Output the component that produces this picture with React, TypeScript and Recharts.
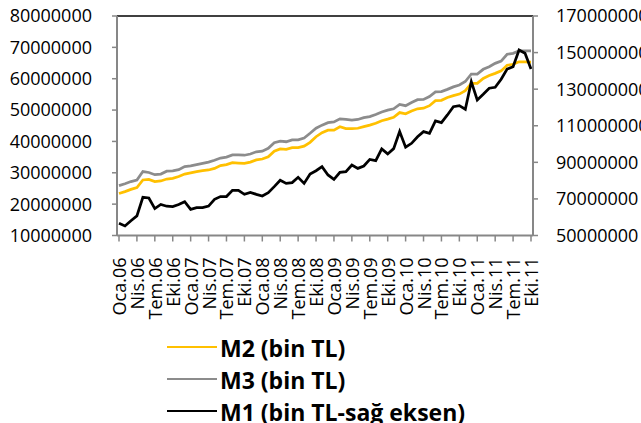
import { LineChart, Line, XAxis, YAxis, ReferenceLine } from 'recharts';

// Turkish month abbreviations, Oca.06 .. Eki.11 (70 months)
const MONTHS = ['Oca', 'Şub', 'Mar', 'Nis', 'May', 'Haz', 'Tem', 'Ağu', 'Eyl', 'Eki', 'Kas', 'Ara'];
const YEARS = ['06', '07', '08', '09', '10', '11'];
const categories = YEARS.flatMap((yr) => MONTHS.map((m) => `${m}.${yr}`)).slice(0, 70);

// values in millions (bin TL)
const m2 = [
  23.4, 24.0, 24.7, 25.3, 27.7, 27.9, 27.2, 27.4, 28.0, 28.2, 28.8, 29.6,
  30.0, 30.4, 30.7, 30.9, 31.4, 32.3, 32.6, 33.2, 33.1, 33.0, 33.4, 34.1,
  34.4, 35.1, 36.9, 37.6, 37.5, 38.0, 38.0, 38.5, 39.7, 41.5, 42.8, 43.6,
  43.6, 44.7, 44.1, 44.1, 44.2, 44.7, 45.2, 45.8, 46.6, 47.1, 47.7, 49.2,
  48.8, 49.7, 50.4, 50.6, 51.4, 53.0, 53.1, 54.0, 54.6, 55.1, 56.2, 58.5,
  58.5, 60.1, 61.0, 61.7, 62.5, 64.3, 64.6, 65.4, 65.4, 65.3,
];
const m3 = [
  25.9, 26.5, 27.2, 27.7, 30.4, 30.1, 29.4, 29.6, 30.5, 30.6, 31.0, 32.0,
  32.2, 32.6, 33.0, 33.4, 34.0, 34.7, 35.0, 35.7, 35.7, 35.6, 36.0, 36.7,
  36.9, 37.8, 39.6, 40.1, 39.9, 40.5, 40.5, 41.1, 42.6, 44.2, 45.2, 46.0,
  46.2, 47.2, 47.0, 46.8, 47.0, 47.6, 47.9, 48.6, 49.4, 50.0, 50.4, 51.8,
  51.4, 52.4, 53.3, 53.4, 54.3, 55.8, 55.9, 56.6, 57.4, 58.0, 59.1, 61.5,
  61.5, 63.0, 63.8, 64.9, 65.6, 67.8, 68.1, 68.9, 68.9, 68.9,
];
const m1 = [
  56.7, 55.2, 58.1, 60.7, 70.9, 70.5, 64.7, 67.0, 66.0, 65.8, 66.9, 68.5,
  64.3, 65.2, 65.2, 66.1, 69.8, 71.3, 71.3, 74.7, 74.7, 72.5, 73.6, 72.5,
  71.6, 73.4, 76.7, 80.2, 78.5, 78.9, 81.8, 78.5, 83.6, 85.4, 87.6, 83.1,
  80.7, 84.5, 84.9, 88.5, 86.7, 88.0, 91.6, 90.9, 97.3, 94.6, 97.5, 106.8,
  98.3, 100.4, 104.0, 106.8, 105.9, 112.6, 111.7, 115.9, 120.4, 121.0, 119.0, 134.1,
  124.1, 127.2, 130.5, 131.0, 135.4, 141.0, 142.3, 151.4, 149.6, 141.0,
];

const leftTicks = [10, 20, 30, 40, 50, 60, 70, 80];
const rightTicks = [50, 70, 90, 110, 130, 150, 170];

const legendItems = [
  { name: 'M2 (bin TL)', color: '#FFC000' },
  { name: 'M3 (bin TL)', color: '#8C8C8C' },
  { name: 'M1 (bin TL-sağ eksen)', color: '#000000' },
];

const data = categories.map((label, i) => ({ label, m2: m2[i], m3: m3[i], m1: m1[i] }));

const FONT = '"Open Sans", sans-serif';
const AXIS_GRAY = '#878787';

function MonthTick({ x, y, payload }: any) {
  return (
    <text
      x={x}
      y={y}
      transform={`rotate(-90, ${x}, ${y})`}
      textAnchor="end"
      dominantBaseline="central"
      fontSize={18}
      fontFamily={FONT}
      fill="#000"
    >
      {payload.value}
    </text>
  );
}

export default function App() {
  const tickStyle = { fontSize: 18, fill: '#000', fontFamily: FONT };
  return (
    <div style={{ position: 'absolute', left: 0, top: 0, width: 641, height: 423, background: '#fff' }}>
      <LineChart width={641} height={423} data={data} margin={{ top: 16, right: 0, left: 0, bottom: 0 }}>
        <XAxis
          dataKey="label"
          interval={2}
          height={187.5}
          padding={{ left: 2, right: 2 }}
          tick={<MonthTick />}
          tickSize={6}
          tickMargin={16}
          axisLine={{ stroke: AXIS_GRAY, strokeWidth: 2 }}
          tickLine={{ stroke: AXIS_GRAY, strokeWidth: 1.5 }}
        />
        <YAxis
          yAxisId="left"
          width={117}
          domain={[10, 80]}
          ticks={leftTicks}
          tickFormatter={(v) => `${v}000000`}
          tick={tickStyle}
          tickSize={5}
          tickMargin={20}
          axisLine={{ stroke: AXIS_GRAY, strokeWidth: 2 }}
          tickLine={{ stroke: AXIS_GRAY, strokeWidth: 1.5 }}
        />
        <YAxis
          yAxisId="right"
          orientation="right"
          width={108}
          domain={[50, 170]}
          ticks={rightTicks}
          tickFormatter={(v) => `${v}000000`}
          tick={{ ...tickStyle, textAnchor: 'start' }}
          tickSize={5}
          tickMargin={18}
          axisLine={{ stroke: AXIS_GRAY, strokeWidth: 2 }}
          tickLine={{ stroke: AXIS_GRAY, strokeWidth: 1.5 }}
        />
        <ReferenceLine yAxisId="left" y={80} stroke="#000" strokeWidth={1.5} />
        <Line yAxisId="left" dataKey="m2" stroke="#FFC000" strokeWidth={2.75} dot={false} isAnimationActive={false} />
        <Line yAxisId="left" dataKey="m3" stroke="#8C8C8C" strokeWidth={2.75} dot={false} isAnimationActive={false} />
        <Line yAxisId="right" dataKey="m1" stroke="#000" strokeWidth={2.75} dot={false} isAnimationActive={false} />
      </LineChart>
      <svg width={641} height={423} style={{ position: 'absolute', left: 0, top: 0, pointerEvents: 'none' }}>
        {legendItems.map((item, i) => (
          <g key={item.name}>
            <line x1={167} x2={217} y1={347 + i * 32} y2={347 + i * 32} stroke={item.color} strokeWidth={2} />
            <text x={220} y={357 + i * 32} fontSize={23} fontWeight={700} fontFamily={FONT} fill="#000">
              {item.name}
            </text>
          </g>
        ))}
      </svg>
    </div>
  );
}
